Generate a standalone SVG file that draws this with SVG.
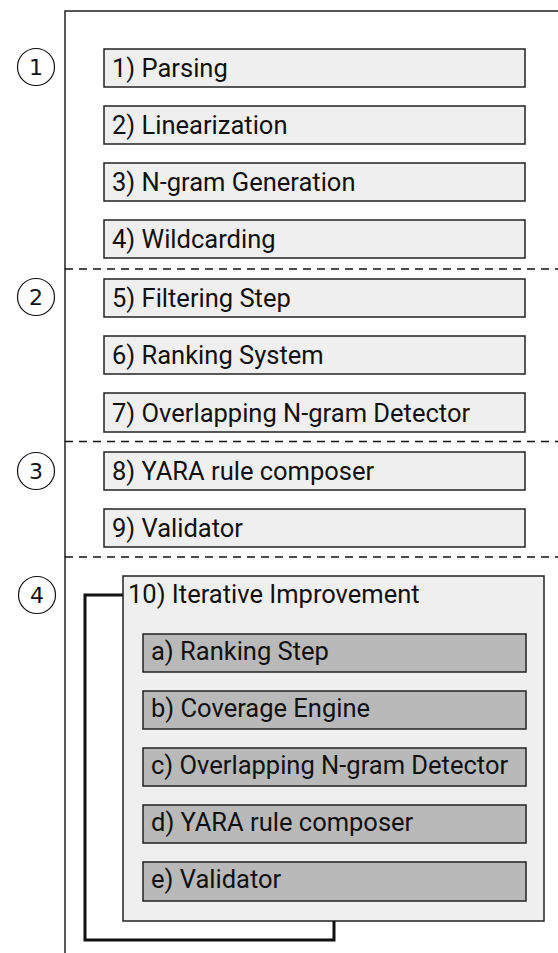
<svg xmlns="http://www.w3.org/2000/svg" width="558" height="953" viewBox="0 0 558 953">
<style>
.box{fill:#efefef;stroke:#222;stroke-width:1.5}
.ibox{fill:#b9b9b9;stroke:#222;stroke-width:1.5}
.t{font-family:Roboto,"Liberation Sans",sans-serif;font-size:25.5px;fill:#111}
.dash{stroke:#111;stroke-width:1.5;stroke-dasharray:8 6;fill:none}
.circ{fill:none;stroke:#111;stroke-width:1.2}
.num{font-family:"DejaVu Sans",sans-serif;font-size:22px;fill:#111;text-anchor:middle}
</style>
<rect width="558" height="953" fill="#fff"/>
<g id="frame">
<path d="M65 953 V11 H558" fill="none" stroke="#222" stroke-width="1.5"/>
<line class="dash" x1="65" y1="269" x2="558" y2="269"/>
<line class="dash" x1="65" y1="441.5" x2="558" y2="441.5"/>
<line class="dash" x1="65" y1="557" x2="558" y2="557"/>
</g>
<g id="s1"><circle class="circ" cx="36" cy="67" r="18.5"/><text class="num" x="36" y="75">1</text></g>
<g id="s2"><circle class="circ" cx="36" cy="297" r="18.5"/><text class="num" x="36" y="305">2</text></g>
<g id="s3"><circle class="circ" cx="36" cy="471" r="18.5"/><text class="num" x="36" y="479">3</text></g>
<g id="s4"><circle class="circ" cx="37" cy="595" r="18.5"/><text class="num" x="37" y="603">4</text></g>
<g id="n1"><rect class="box" x="104" y="49" width="421" height="38"/><text class="t" x="112" y="77">1) Parsing</text></g>
<g id="n2"><rect class="box" x="104" y="106" width="421" height="38"/><text class="t" x="112" y="134">2) Linearization</text></g>
<g id="n3"><rect class="box" x="104" y="163" width="421" height="38"/><text class="t" x="112" y="191">3) N-gram Generation</text></g>
<g id="n4"><rect class="box" x="104" y="220" width="421" height="38"/><text class="t" x="112" y="248">4) Wildcarding</text></g>
<g id="n5"><rect class="box" x="104" y="279" width="421" height="38"/><text class="t" x="112" y="307">5) Filtering Step</text></g>
<g id="n6"><rect class="box" x="104" y="336" width="421" height="38"/><text class="t" x="112" y="364">6) Ranking System</text></g>
<g id="n7"><rect class="box" x="104" y="393" width="421" height="39"/><text class="t" x="112" y="421.5">7) Overlapping N-gram Detector</text></g>
<g id="n8"><rect class="box" x="104" y="452" width="421" height="38"/><text class="t" x="112" y="480">8) YARA rule composer</text></g>
<g id="n9"><rect class="box" x="104" y="509" width="421" height="38"/><text class="t" x="112" y="537">9) Validator</text></g>
<g id="n10"><rect class="box" x="123" y="576" width="421" height="345"/><text class="t" x="128" y="603">10) Iterative Improvement</text></g>
<g id="na"><rect class="ibox" x="143" y="634" width="383" height="38"/><text class="t" x="151" y="659.5">a) Ranking Step</text></g>
<g id="nb"><rect class="ibox" x="143" y="691" width="383" height="38"/><text class="t" x="151" y="716.5">b) Coverage Engine</text></g>
<g id="nc"><rect class="ibox" x="143" y="748" width="383" height="38"/><text class="t" x="151" y="773.5">c) Overlapping N-gram Detector</text></g>
<g id="nd"><rect class="ibox" x="143" y="805" width="383" height="38"/><text class="t" x="151" y="830.5">d) YARA rule composer</text></g>
<g id="ne"><rect class="ibox" x="143" y="862" width="383" height="39"/><text class="t" x="151" y="888">e) Validator</text></g>
<g id="connectors">
<path d="M123 595 H85 V940 H334 V921" fill="none" stroke="#111" stroke-width="3"/>
</g>
</svg>
